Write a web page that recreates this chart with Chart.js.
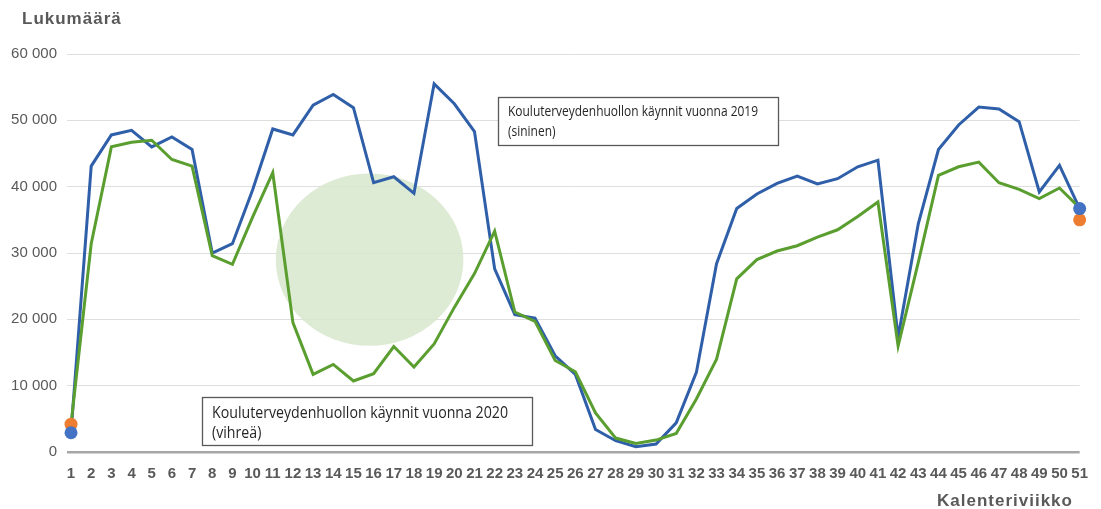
<!DOCTYPE html>
<html><head><meta charset="utf-8">
<script src="https://cdn.jsdelivr.net/npm/chart.js@4/dist/chart.umd.min.js"></script>
<style>html,body{margin:0;padding:0;background:#fff}canvas{display:block}</style>
</head><body>
<canvas id="c" width="1101" height="509"></canvas>
<script>
const weeks = Array.from({length:51},(_, i)=>i+1);
const visits2019 = [3000,43100,47800,48500,46000,47500,45600,30000,31400,39500,48700,47800,52300,53900,51900,40600,41500,39000,55500,52500,48300,27600,20700,20200,14500,11700,3400,1700,800,1200,4400,12000,28400,36700,38900,40500,41600,40400,41200,43000,44000,17300,34400,45600,49300,52000,51700,49800,39200,43200,36700];
const visits2020 = [4200,31400,46000,46700,47000,44100,43100,29600,28300,35400,42100,19500,11700,13200,10700,11800,15900,12800,16300,21800,26900,33300,21100,19700,13800,12100,5900,2100,1300,1800,2800,8000,14000,26100,29000,30300,31100,32400,33500,35500,37700,16000,28600,41700,43000,43700,40600,39600,38200,39800,36800];
const endWeeks = [1,51];
const dots2019 = [2900,36700];
const dots2020 = [4200,35000];
const yTicks = [0,10000,20000,30000,40000,50000,60000];
const yTitle = 'Lukumäärä';
const xTitle = 'Kalenteriviikko';
const note2019 = ['Kouluterveydenhuollon käynnit vuonna 2019','(sininen)'];
const note2020 = ['Kouluterveydenhuollon käynnit vuonna 2020','(vihreä)'];
// highlighted region (data units): center week/value and half extents
const highlight = {cx:15.8, cy:29000, hw:4.65, hh:13000};

const fmt = v => String(v).replace(/\B(?=(\d{3})+(?!\d))/g,' ');

const decor = {
  id:'decor',
  beforeDatasetsDraw(chart){
    const {ctx, scales:{x,y}} = chart;
    const cx = x.getPixelForValue(highlight.cx), cy = y.getPixelForValue(highlight.cy);
    const rx = x.getPixelForValue(highlight.cx+highlight.hw)-cx;
    const ry = cy - y.getPixelForValue(highlight.cy+highlight.hh);
    ctx.save();
    ctx.fillStyle = 'rgba(215,230,205,0.85)';
    ctx.beginPath(); ctx.ellipse(cx,cy,rx,ry,0,0,Math.PI*2); ctx.fill();
    ctx.restore();
  },
  afterDraw(chart){
    const ctx = chart.ctx;
    ctx.save();
    ctx.fillStyle = '#595959';
    ctx.font = 'bold 17px "Liberation Sans", Arial, sans-serif';
    ctx.textBaseline = 'middle';
    ctx.textAlign = 'left';
    try { ctx.letterSpacing = '1px'; } catch(e) {}
    ctx.fillText(yTitle, 22, 19);
    ctx.fillText(xTitle, 937, 501);
    try { ctx.letterSpacing = '0px'; } catch(e) {}
    const box = (x0,y0,w,h,lines,size,maxW,ly,gap)=>{
      ctx.fillStyle = '#fff';
      ctx.fillRect(x0,y0,w,h);
      ctx.strokeStyle = '#595959'; ctx.lineWidth = 1.3;
      ctx.strokeRect(x0+0.5,y0+0.5,w,h);
      ctx.fillStyle = '#262626';
      ctx.font = size+'px "Open Sans", sans-serif';
      ctx.textBaseline = 'middle';
      const ratio = maxW / ctx.measureText(lines[0]).width;
      lines.forEach((t,i)=>{
        const mw = ctx.measureText(t).width;
        ctx.fillText(t, x0+10, ly+i*gap, Math.min(mw, mw*ratio));
      });
    };
    box(498,97,280,48,note2019,15,250,112,20);
    box(202,397,330,48,note2020,16.5,296,413,20);
    ctx.restore();
  }
};

new Chart(document.getElementById('c'), {
  type:'line',
  data:{
    datasets:[
      {label:'2019 dots', data:endWeeks.map((w,i)=>({x:w,y:dots2019[i]})), showLine:false, pointRadius:6.5, pointBackgroundColor:'#4472c4', pointBorderWidth:0, order:0, clip:false},
      {label:'2020 dots', data:endWeeks.map((w,i)=>({x:w,y:dots2020[i]})), showLine:false, pointRadius:6.5, pointBackgroundColor:'#ed7d31', pointBorderWidth:0, order:0, clip:false},
      {label:'2019', data:weeks.map((w,i)=>({x:w,y:visits2019[i]})), borderColor:'#2f5fa9', borderWidth:3, pointRadius:0, tension:0, order:2, clip:false},
      {label:'2020', data:weeks.map((w,i)=>({x:w,y:visits2020[i]})), borderColor:'#5a9e2f', borderWidth:3, pointRadius:0, tension:0, order:1, clip:false}
    ]
  },
  options:{
    responsive:false, animation:false,
    layout:{padding:{top:54,right:21,bottom:27,left:0}},
    plugins:{legend:{display:false}, tooltip:{enabled:false}},
    scales:{
      x:{type:'linear', min:0.8, max:51,
        afterBuildTicks: s => { s.ticks = weeks.map(v=>({value:v})); },
        afterFit: s => { s.height = 30; },
        grid:{display:false, drawTicks:false}, border:{display:false},
        ticks:{padding:13, autoSkip:false, maxRotation:0, color:'#595959', font:{family:'"Liberation Sans", Arial, sans-serif', size:15, weight:'bold'}, callback:v=>String(v)}
      },
      y:{min:0, max:60000,
        afterBuildTicks: s => { s.ticks = yTicks.map(v=>({value:v})); },
        afterFit: s => { s.width = 67; },
        grid:{drawTicks:false, color:c=>c.tick && c.tick.value===0 ? '#a6a6a6' : '#dedede', lineWidth:c=>c.tick && c.tick.value===0 ? 2.5 : 1},
        border:{display:false},
        ticks:{padding:10, color:'#595959', font:{family:'"Liberation Sans", Arial, sans-serif', size:15}, callback:v=>fmt(v)}
      }
    }
  },
  plugins:[decor]
});
</script>
</body></html>
